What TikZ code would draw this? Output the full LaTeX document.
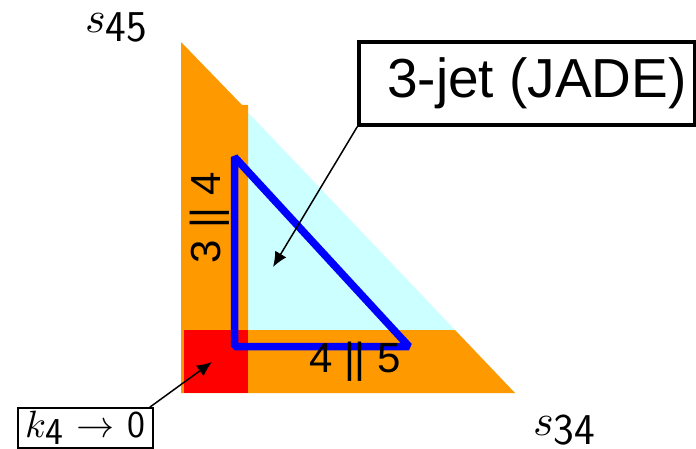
\documentclass[tikz,border=0pt]{standalone}
\usepackage{amsmath}
\usepackage{fontspec}
\usepackage{unicode-math}
\usepackage{tikz}
\usetikzlibrary{arrows.meta, positioning}
\newfontfamily\arialfont{Liberation Sans}
\definecolor{Region_Orange}{HTML}{FF9900}
\definecolor{Region_Cyan}{HTML}{CCFFFF}
\definecolor{Soft_Red}{HTML}{FF0000}
\definecolor{Cut_Blue}{HTML}{0000FF}
\newcommand{\invar}[2]{$#1$\raisebox{-9pt}{\sffamily #2}}

\begin{document}
\begin{tikzpicture}[x=1pt, y=-1pt]
    \useasboundingbox (0,0) rectangle (696,449);
    \tikzset{callout/.style={-{Latex[length=15pt, width=13pt]}, line width=1.5pt}}
    % phase space regions
    \fill[Region_Cyan] (181,42) -- (181,393) -- (515,393) -- cycle;
    \fill[Region_Orange] (181,42) -- (242,105) -- (248,105) -- (248,330) -- (455,330)
        -- (515,393) -- (181,393) -- cycle;
    \fill[Soft_Red] (184,330) rectangle (248,393);
    \draw[Cut_Blue, line width=7.5pt, line join=bevel] (234.5,157) -- (234.5,346.5) -- (409,346.5) -- cycle;
    % collinear labels
    \node[rotate=90, anchor=base, font=\arialfont\fontsize{42}{42}\selectfont] (cut34) at (220,218) {3 || 4};
    \node[anchor=base, font=\arialfont\fontsize{42}{42}\selectfont] (cut45) at (355,372) {4 || 5};
    % axes
    \node[anchor=base west, inner sep=0pt, font=\fontsize{44}{44}\selectfont] (s45) at (85,33) {\invar{s}{45}};
    \node[anchor=base west, inner sep=0pt, font=\fontsize{44}{44}\selectfont] (s34) at (533,435) {\invar{s}{34}};
    % callouts
    \node[draw, line width=3.5pt, inner xsep=8pt, minimum width=336pt, minimum height=83pt,
        font=\arialfont\fontsize{55}{55}\selectfont] (jade) at (527,83.5) {\hspace{20pt}3-jet (JADE)};
    \node[draw, line width=1.5pt, minimum width=135pt, minimum height=40pt, inner sep=0pt,
        font=\fontsize{38}{38}\selectfont] (kzero) at (85.5,428)
        {$k$\raisebox{-7pt}{\sffamily 4}\hspace{13pt}$\rightarrow$\hspace{13pt}{\sffamily 0}};
    \coordinate (jetpt) at (273,267);
    \coordinate (softpt) at (212,362);
    \draw[callout] (jade.south west) -- (jetpt);
    \draw[callout] ([xshift=-4pt]kzero.north east) -- (softpt);
\end{tikzpicture}
\end{document}
